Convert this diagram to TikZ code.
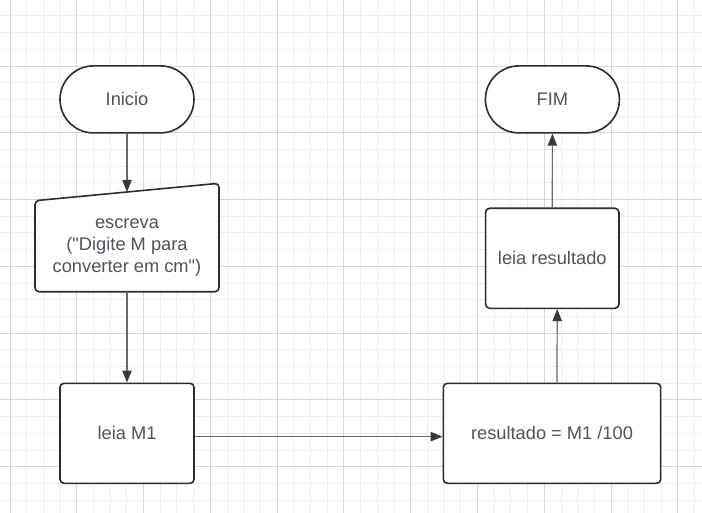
\documentclass[tikz,border=0pt]{standalone}
\usepackage{fontspec}
\setmainfont{Liberation Sans}
\usetikzlibrary{shapes.misc,arrows.meta}
\definecolor{gridminor}{RGB}{236,236,236}
\definecolor{gridmajor}{RGB}{214,214,214}
\definecolor{edgec}{RGB}{40,44,51}
\definecolor{txtc}{RGB}{78,83,92}
\definecolor{connc}{RGB}{100,104,112}
\definecolor{headc}{RGB}{52,56,64}
\tikzset{
  lbl/.style={text=txtc, font=\fontsize{13.7}{16.5}\selectfont, align=center, inner sep=0pt},
  boxnode/.style={lbl, draw=edgec, line width=1.2pt, fill=white, rounded corners=3pt, rectangle, inner sep=0pt},
  termnode/.style={lbl, draw=edgec, line width=1.2pt, fill=white, rounded rectangle, inner sep=0pt,
     minimum width=100.5pt, minimum height=50.25pt},
  conn/.style={draw=connc, line width=0.9pt, -{Triangle[length=9pt,width=7pt,color=headc]}},
  minorline/.style={draw=gridminor, line width=0.75pt},
  majorline/.style={draw=gridmajor, line width=0.75pt}
}
\begin{document}
\begin{tikzpicture}[x=0.75pt,y=-0.75pt]
\useasboundingbox (0,0) rectangle (702,513);
\fill[white] (0,0) rectangle (702,513);
% grid
\foreach \k in {0,...,41} {\draw[minorline] ({floor(10+16.7*\k)+0.5},0) -- ({floor(10+16.7*\k)+0.5},513);}
\foreach \k in {-3,...,26} {\draw[minorline] (0,{floor(66+16.7*\k)+0.5}) -- (702,{floor(66+16.7*\k)+0.5});}
\foreach \k in {0,4,...,40} {\draw[majorline] ({floor(10+16.7*\k)+0.5},0) -- ({floor(10+16.7*\k)+0.5},513);}
\foreach \k in {0,4,...,24} {\draw[majorline] (0,{floor(66+16.7*\k)+0.5}) -- (702,{floor(66+16.7*\k)+0.5});}
% shapes
\node[termnode] (inicio) at (127,99.4) {Inicio};
\node[termnode] (fim) at (552.4,99.4) {FIM};
\draw[draw=edgec, line width=1.2pt, fill=white, rounded corners=3pt]
  (35,291.7) -- (35,200.7) -- (219,183.3) -- (219,291.7) -- cycle;
\coordinate (esctop) at (127,192);
\coordinate (escbot) at (127,291.7);
\node[lbl] (esc) at (127,247.5) {escreva\\(\textquotedbl Digite M para\\converter em cm\textquotedbl)};
\node[boxnode, minimum width=100.5pt, minimum height=75pt] (leiam) at (127,433.3) {leia M1};
\node[boxnode, minimum width=163pt, minimum height=75pt] (calc) at (552,433.3) {resultado = M1 /100};
\node[boxnode, minimum width=100pt, minimum height=75pt] (leiares) at (552.3,258.3) {leia resultado};
% connectors
\draw[conn] (inicio.south) -- (esctop);
\draw[conn] (escbot) -- (leiam.north);
\draw[conn] ([yshift=-2.5pt]leiam.east) -- ([yshift=-2.5pt]calc.west);
\draw[conn] ([xshift=3.7pt]calc.north) -- ([xshift=3.7pt]leiares.south);
\draw[conn] (leiares.north) -- (fim.south);
\end{tikzpicture}
\end{document}
